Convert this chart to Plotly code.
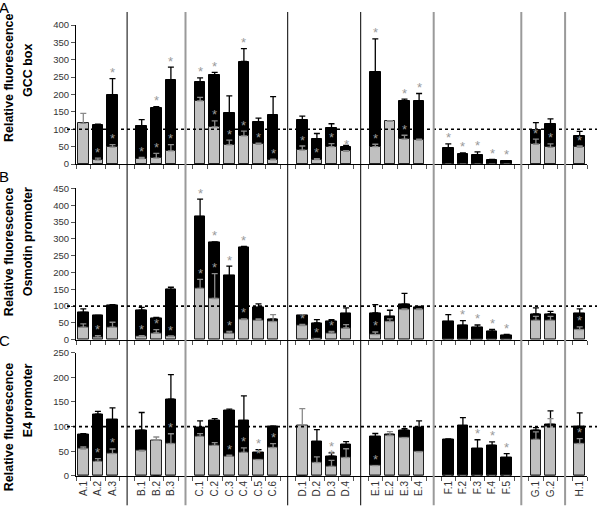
import plotly.graph_objects as go

# categories: groups A..H, one empty slot between groups
groups = ['A', 'B', 'C', 'D', 'E', 'F', 'G', 'H']
group_sizes = [3, 3, 6, 4, 4, 5, 2, 1]
# colour of the separator drawn after each group (A|B, B|C, ...)
separator_colors = ['black', 'gray', 'black', 'black', 'gray', 'gray', 'gray']

labels = []
xpos = []
seps = []
pos = 0
for g, n in zip(groups, group_sizes):
    for i in range(n):
        labels.append(f'{g}.{i + 1}')
        xpos.append(pos)
        pos += 1
    seps.append(pos)
    pos += 1
seps = seps[:-1]

# ---- Panel A: GCC box ----
gcc_black = [0, 113, 199, 110, 160, 241, 235, 255, 146, 295, 120, 141,
             127, 73, 104, 49, 266, 0, 181, 182, 46, 29, 25, 11.5, 8, 97, 115, 82]
gcc_black_err = [0, 2, 47, 18, 5, 38, 13, 9, 50, 37, 12, 53,
                 11, 15, 12, 5, 94, 0, 6, 21, 12, 3, 10, 2, 1, 22, 15, 12]
gcc_gray = [117, 11.5, 49, 16, 17, 38, 182, 107, 55, 81, 57, 12,
            40, 13, 50, 37, 50, 123, 72, 69, 0, 0, 0, 0, 0, 57, 48, 48]
gcc_gray_err = [29, 5.5, 7, 3, 14, 18, 10, 17, 14, 14, 3, 2,
                12, 3, 9, 2, 7, 2, 11, 3, 0, 0, 0, 0, 0, 15, 10, 4]
gcc_star_black = ['A.3', 'B.2', 'B.3', 'C.1', 'C.2', 'C.4', 'E.1', 'E.3', 'E.4',
                  'F.1', 'F.2', 'F.3', 'F.4', 'F.5']
gcc_star_gray = ['A.2', 'A.3', 'B.1', 'B.2', 'B.3', 'C.2', 'C.3', 'C.4', 'C.5', 'C.6',
                 'D.1', 'D.2', 'D.3', 'D.4', 'E.1', 'E.3', 'G.1', 'G.2', 'H.1']

# ---- Panel B: Osmotin promoter ----
osm_black = [81.5, 71.5, 103, 88, 64.5, 149, 366, 289, 190, 274.5, 95.5, 61.5,
             71.5, 49.7, 55.6, 77.5, 79.5, 68.6, 106, 97.4, 53.7, 42.7, 35.8, 25.8, 12.9,
             76.5, 76.5, 77.5]
osm_black_err = [10, 1, 1, 8, 2, 7, 52, 2, 29, 3, 11, 0,
                 0, 10, 4, 17, 25, 19, 32, 2, 21, 14, 8, 5, 3, 18, 8, 14]
osm_gray = [37, 7, 37, 9, 20, 9, 152.6, 122.6, 20, 59.6, 57.6, 53.7,
            41.7, 3, 20, 34.8, 15, 53.7, 89.4, 89.4, 0, 0, 0, 0, 0, 57.6, 57.6, 30]
osm_gray_err = [10, 5, 15, 3, 10, 2, 27, 74, 5, 2, 4, 21,
                4, 0, 5, 10, 8, 8, 2, 2, 0, 0, 0, 0, 0, 12, 12, 8]
osm_star_black = ['C.1', 'C.2', 'C.3', 'C.4', 'F.2', 'F.3', 'F.4', 'F.5']
osm_star_gray = ['A.2', 'B.1', 'B.2', 'B.3', 'C.1', 'C.2', 'C.3', 'C.4',
                 'D.1', 'D.2', 'D.3', 'E.1', 'H.1']

# ---- Panel C: E4 promoter ----
e4_black = [84.5, 125, 114, 92.6, 0, 155.4, 98, 111.5, 131.8, 111.5, 47.3, 100,
            0, 69, 40, 63.5, 79, 84, 92.6, 98, 74.3, 101.3, 55.4, 62.2, 37.2,
            92.6, 104.7, 99.3]
e4_black_err = [1, 6, 24, 36, 0, 50, 13.5, 4.7, 3.4, 50.7, 6, 1,
                0, 25, 7, 6, 7, 0, 3.4, 13.5, 1, 17, 18, 7, 8, 5.4, 27, 28.4]
e4_gray = [54.7, 29.8, 45.3, 50.6, 72.3, 65.5, 80.4, 62.2, 40, 48, 33.1, 57.4,
           102.6, 27, 19.6, 37.2, 21, 82, 77.6, 49, 0, 0, 0, 0, 0, 74.3, 99.3, 65.5]
e4_gray_err = [4, 5.5, 9.4, 1.4, 6.7, 20, 5.4, 5.3, 2, 8.8, 0, 8,
               33.8, 11.6, 12.2, 18, 0, 8, 0, 0, 0, 0, 0, 0, 0, 15, 17, 10]
e4_star_black = ['C.5', 'D.3', 'F.3', 'F.4', 'F.5']
e4_star_gray = ['A.2', 'A.3', 'B.3', 'C.3', 'C.4', 'C.5', 'C.6', 'D.3', 'E.1', 'H.1']

panels = [
    dict(black=gcc_black, black_err=gcc_black_err, gray=gcc_gray, gray_err=gcc_gray_err,
         sb=gcc_star_black, sg=gcc_star_gray, ymax=400, dom=(25, 164),
         letter='A', letter_y=8, t1_y=78, t2='GCC box', t2_y=70),
    dict(black=osm_black, black_err=osm_black_err, gray=osm_gray, gray_err=osm_gray_err,
         sb=osm_star_black, sg=osm_star_gray, ymax=450, dom=(188.3, 339.5),
         letter='B', letter_y=176, t1_y=252, t2='Osmotin promoter', t2_y=242),
    dict(black=e4_black, black_err=e4_black_err, gray=e4_gray, gray_err=e4_gray_err,
         sb=e4_star_black, sg=e4_star_gray, ymax=250, dom=(352.3, 475.7),
         letter='C', letter_y=340, t1_y=427, t2='E4 promoter', t2_y=400),
]

W, H = 600, 509
L, R, T, B = 76, 13, 25, 33.3
FONT = 'Liberation Sans, Arial, sans-serif'


def px_x(px):
    return (px - L) / (W - L - R)


def px_y(py):
    return (H - B - py) / (H - T - B)


fig = go.Figure()
annotations = []
shapes = []

for k, p in enumerate(panels):
    sfx = '' if k == 0 else str(k + 1)
    xa, ya = 'x' + sfx, 'y' + sfx
    fig.add_trace(go.Bar(
        x=xpos, y=p['black'], width=0.72, xaxis=xa, yaxis=ya,
        marker=dict(color='black', line=dict(color='black', width=1)),
        error_y=dict(type='data', array=p['black_err'], symmetric=False,
                     arrayminus=[0] * len(xpos), color='black', thickness=1.3, width=3),
        showlegend=False, hoverinfo='skip'))
    fig.add_trace(go.Bar(
        x=xpos, y=p['gray'], width=0.72, xaxis=xa, yaxis=ya,
        marker=dict(color='#c0c0c0', line=dict(color='#222222', width=1)),
        error_y=dict(type='data', array=p['gray_err'], symmetric=False,
                     arrayminus=[0] * len(xpos), color='#8a8a8a', thickness=1.3, width=3),
        showlegend=False, hoverinfo='skip'))

    # significance stars
    for lab in p['sb']:
        i = labels.index(lab)
        annotations.append(dict(x=xpos[i], y=p['black'][i] + p['black_err'][i], xref=xa, yref=ya,
                                text='*', showarrow=False, yanchor='middle', yshift=6,
                                font=dict(size=13, color='#9a9a9a', family=FONT)))
    for lab in p['sg']:
        i = labels.index(lab)
        annotations.append(dict(x=xpos[i], y=p['gray'][i] + p['gray_err'][i], xref=xa, yref=ya,
                                text='*', showarrow=False, yanchor='middle', yshift=6,
                                font=dict(size=13, color='#9a9a9a', family=FONT)))

    top, bot = p['dom']
    fig.update_layout({
        'xaxis' + sfx: dict(
            domain=[0, 1], range=[-0.5, pos - 1.5], anchor=ya, automargin=False,
            tickmode='array', tickvals=xpos, ticktext=labels, ticks='',
            showticklabels=(k == 2), tickangle=-90,
            tickfont=dict(size=10, color='#333333', family=FONT),
            showline=True, linecolor='black', linewidth=1, showgrid=False, zeroline=False,
            minor=dict(ticks='outside', tick0=0.5, dtick=1, ticklen=4, tickcolor='#555555')),
        'yaxis' + sfx: dict(
            domain=[px_y(bot), px_y(top)], range=[0, p['ymax']], anchor=xa, automargin=False,
            dtick=50, ticks='outside', ticklen=4, tickcolor='#555555',
            tickfont=dict(size=9.5, color='#333333', family=FONT),
            showline=True, linecolor='black', linewidth=1, showgrid=False, zeroline=False),
    })

    # dotted reference line at 100
    shapes.append(dict(type='line', xref='paper', yref=ya, x0=px_x(67), x1=px_x(597),
                       y0=100, y1=100, line=dict(color='black', width=1.6, dash='dot')))

    annotations.append(dict(x=px_x(4), y=px_y(p['letter_y']), xref='paper', yref='paper',
                            text=p['letter'], showarrow=False, xanchor='center', yanchor='middle',
                            font=dict(size=15, color='black', family=FONT)))
    annotations.append(dict(x=px_x(9), y=px_y(p['t1_y']), xref='paper', yref='paper',
                            text='<b>Relative fluorescence</b>', textangle=-90, showarrow=False,
                            xanchor='center', yanchor='middle',
                            font=dict(size=12.5, color='black', family=FONT)))
    annotations.append(dict(x=px_x(28), y=px_y(p['t2_y']), xref='paper', yref='paper',
                            text='<b>' + p['t2'] + '</b>', textangle=-90, showarrow=False,
                            xanchor='center', yanchor='middle',
                            font=dict(size=12.5, color='black', family=FONT)))

# vertical separators between groups
for s, c in zip(seps, separator_colors):
    shapes.append(dict(type='line', xref='x3', yref='paper', x0=s, x1=s,
                       y0=px_y(505), y1=px_y(12),
                       line=dict(color='black' if c == 'black' else '#9a9a9a',
                                 width=1 if c == 'black' else 2)))

fig.update_layout(
    width=W, height=H, barmode='overlay', bargap=0,
    margin=dict(l=L, r=R, t=T, b=B),
    plot_bgcolor='white', paper_bgcolor='white',
    font=dict(family=FONT),
    annotations=annotations, shapes=shapes,
)

# drop the browser's default page margin so the figure sits at the top-left corner
fig.write_html('out.html', config={'displayModeBar': False},
               post_script="document.body.style.margin='0';")
